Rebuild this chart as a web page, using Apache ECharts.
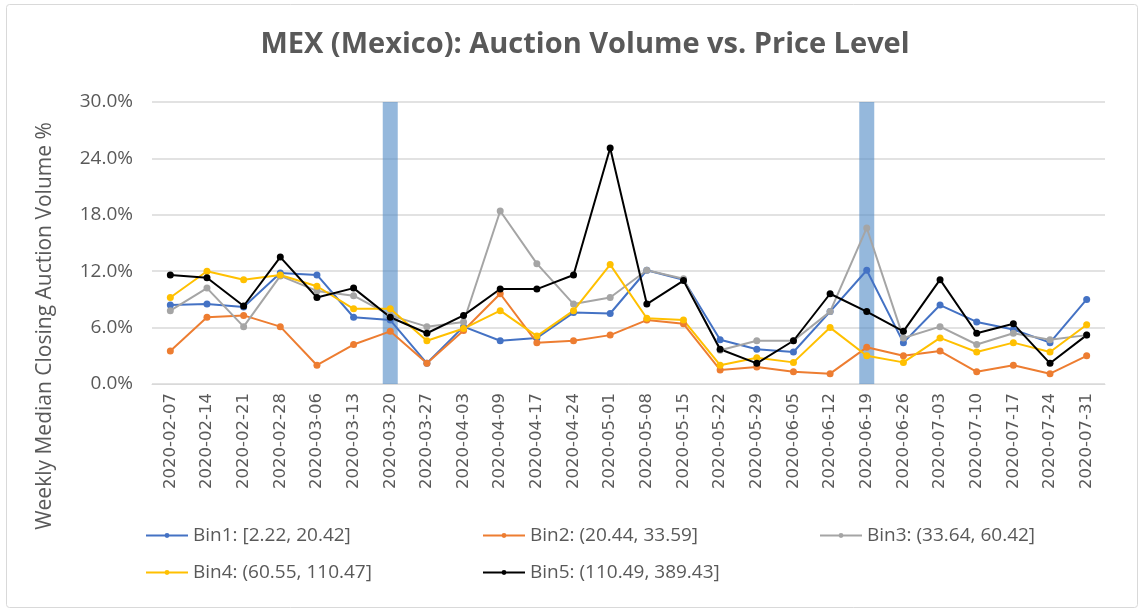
<!DOCTYPE html>
<html>
<head>
<meta charset="utf-8">
<script src="https://cdn.jsdelivr.net/npm/echarts@6/dist/echarts.min.js"></script>
<style>
html,body{margin:0;padding:0;background:#fff;}
#c{width:1144px;height:613px;}
</style>
</head>
<body>
<div id="c"></div>
<script>
const categories = ['2020-02-07','2020-02-14','2020-02-21','2020-02-28','2020-03-06','2020-03-13','2020-03-20','2020-03-27','2020-04-03','2020-04-09','2020-04-17','2020-04-24','2020-05-01','2020-05-08','2020-05-15','2020-05-22','2020-05-29','2020-06-05','2020-06-12','2020-06-19','2020-06-26','2020-07-03','2020-07-10','2020-07-17','2020-07-24','2020-07-31'];
const bin1 = [8.4,8.5,8.2,11.8,11.6,7.1,6.8,2.2,6.1,4.6,4.9,7.6,7.5,12.1,11.1,4.7,3.7,3.4,7.7,12.1,4.4,8.4,6.6,5.8,4.4,9.0];
const bin2 = [3.5,7.1,7.3,6.1,2.0,4.2,5.6,2.2,5.7,9.6,4.4,4.6,5.2,6.8,6.4,1.5,1.8,1.3,1.1,3.9,3.0,3.5,1.3,2.0,1.1,3.0];
const bin3 = [7.8,10.2,6.1,11.5,9.9,9.4,7.3,6.1,6.6,18.4,12.8,8.5,9.2,12.1,11.2,3.6,4.6,4.6,7.7,16.6,4.9,6.1,4.2,5.4,4.7,5.2];
const bin4 = [9.2,12.0,11.1,11.6,10.4,8.0,8.0,4.6,5.9,7.8,5.1,7.8,12.7,7.0,6.8,2.0,2.8,2.3,6.0,3.0,2.3,4.9,3.4,4.4,3.4,6.3];
const bin5 = [11.6,11.3,8.3,13.5,9.2,10.2,7.1,5.4,7.3,10.1,10.1,11.6,25.1,8.5,11.0,3.7,2.2,4.6,9.6,7.7,5.6,11.1,5.4,6.4,2.2,5.2];
const highlightWeeks = ['2020-03-20','2020-06-19'];
const highlightValue = 30;
const seriesNames = ['Bin1: [2.22, 20.42]','Bin2: (20.44, 33.59]','Bin3: (33.64, 60.42]','Bin4: (60.55, 110.47]','Bin5: (110.49, 389.43]'];
const yTicks = {min:0, max:30, interval:6};

const colors = ['#4472C4','#ED7D31','#A5A5A5','#FFC000','#000000'];
const data = [bin1,bin2,bin3,bin4,bin5];
const txt = '#595959';
const font = 'Open Sans, sans-serif';

const chart = echarts.init(document.getElementById('c'));
const lineSeries = data.map((d,i)=>({
  name: seriesNames[i], type:'line', data:d, z:3,
  symbol:'circle', symbolSize:7,
  lineStyle:{color:colors[i], width:2},
  itemStyle:{color:colors[i]},
  emphasis:{disabled:true}
}));
const barData = categories.map(c => highlightWeeks.includes(c) ? highlightValue : null);
const legendPos = [[145,526],[482,526],[819,526],[145,563],[482,563]];
chart.setOption({
  animation:false,
  backgroundColor:'#fff',
  title:{text:'MEX (Mexico): Auction Volume vs. Price Level', left:580, textAlign:'center', top:25,
    textStyle:{fontFamily:font, fontSize:29, fontWeight:'bold', color:txt}},
  grid:{left:152, right:39, top:102, bottom:229},
  legend: seriesNames.map((n,i)=>({data:[n], left:legendPos[i][0], top:legendPos[i][1], itemWidth:42, itemHeight:6, padding:0,
    textStyle:{fontFamily:font, fontSize:19, color:txt}})),
  xAxis:{type:'category', data:categories, boundaryGap:true,
    axisLine:{lineStyle:{color:'#d9d9d9', width:1}}, axisTick:{show:false},
    axisLabel:{rotate:90, interval:0, fontFamily:'DejaVu Sans, sans-serif', fontSize:16.5, color:txt, margin:9}},
  yAxis:{type:'value', min:yTicks.min, max:yTicks.max, interval:yTicks.interval,
    axisLine:{show:false}, axisTick:{show:false},
    splitLine:{lineStyle:{color:'#d9d9d9', width:1.5}},
    axisLabel:{formatter:v=>v.toFixed(1)+'%', fontFamily:font, fontSize:19, color:txt, margin:19}},
  graphic:[
    {type:'rect', shape:{x:6.5,y:4.5,width:1131,height:603, r:3}, style:{fill:'none', stroke:'#d9d9d9', lineWidth:1}, silent:true},
    {type:'text', x:45, y:326, rotation:Math.PI/2, style:{text:'Weekly Median Closing Auction Volume %', fontFamily:font, fontSize:21, fill:txt, align:'center', verticalAlign:'middle'}, silent:true}
  ],
  series:[{type:'bar', data:barData, barWidth:15, z:1, itemStyle:{color:'rgba(84,141,198,0.62)'}, emphasis:{disabled:true}, legendHoverLink:false}].concat(lineSeries)
});
</script>
</body>
</html>
